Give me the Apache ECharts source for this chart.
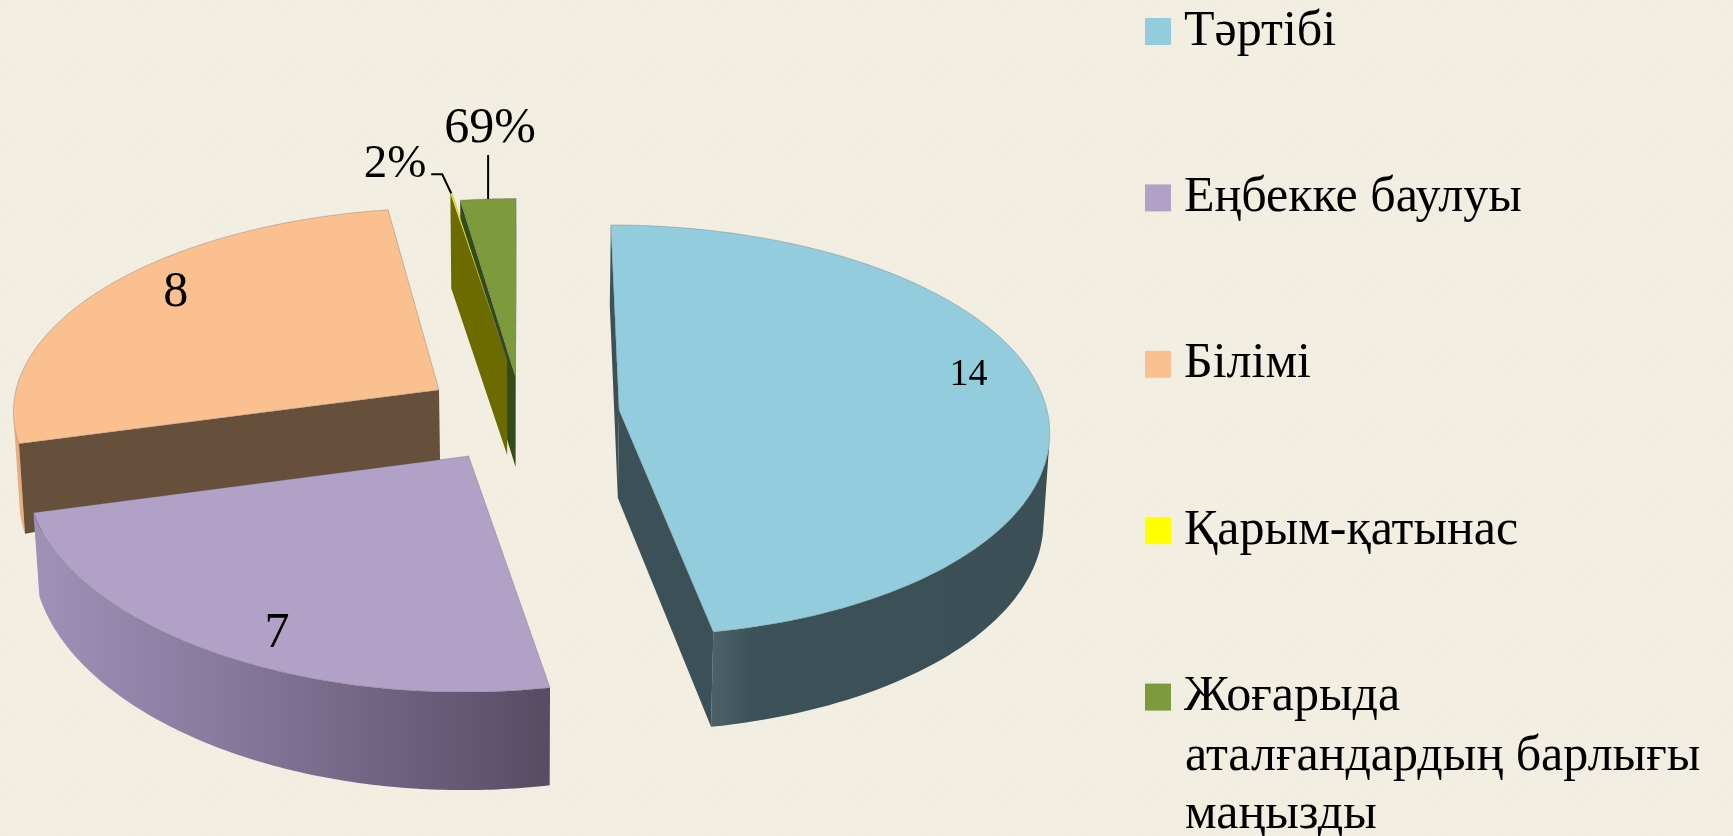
<!DOCTYPE html>
<html>
<head>
<meta charset="utf-8">
<title>chart</title>
<style>
  html, body { margin: 0; padding: 0; background: #f2efe2; }
  #chart { width: 1733px; height: 836px; }
</style>
<script src="https://cdn.jsdelivr.net/npm/echarts@6/dist/echarts.min.js"></script>
</head>
<body>
<div id="chart"></div>
<script>
// data
const categories = ["Тәртібі", "Еңбекке баулуы", "Білімі", "Қарым-қатынас", "Жоғарыда"]
const categoryWrap = ["аталғандардың барлығы", "маңызды"]
const values = [14, 7, 8, 0.02, 0.69]
const labels = ["14", "7", "8", "2%", "69%"]

// look of each slice, same order as categories
const topColors = ["#93cddd", "#b2a1c7", "#fac090", "#ffff00", "#7d9a3c"]
const wallColors = ["#3c5157", "#6d6080", "#664f3b", "#6b6b00", "#334a1a"]
const arcColors = [
  [[0, "#4c626a"], [0.12, "#3d5258"], [1, "#3b5056"]],
  [[0, "#a091b8"], [0.4, "#85779a"], [0.8, "#675a77"], [1, "#564c63"]],
  [[0, "#e8ad7f"], [1, "#e8ad7f"]],
  [[0, "#6b6b00"], [1, "#6b6b00"]],
  [[0, "#334a1a"], [1, "#334a1a"]]
]
// slice apex position, x is counted from the pie axis
const apexX = [96, -54.4, -84, -16, -7.5]
const apexY = [410, 456, 390, 360, 377]
const radiusX = [428, 439, 423, 423, 420]
const radiusY = [203.5, 204, 196.6, 184, 195]
const perspY = [0.0998, 0.136, 0.08, 0.0927, 0.0927]
const depth0 = [88, 78, 70, 95, 90]
const depthR = [0, 0, 20, 0, 0]
const depthY = [7, 20, 0, 0, 0]
// where the text sits: radius and angle in the slice plane, degrees
const labelR = [0.852, 0.875, 0.838]
const labelA = [78.1, 206.9, 307.9]
const labelSize = [38, 50, 50, 47, 50]

const axisX = 523
const perspX = 0.0927
const bottomShrink = 0.988
const fontName = '"Liberation Serif", serif'

const total = values.reduce((a, b) => a + b, 0)
const startAngles = []
values.reduce((sum, v, i) => {
  startAngles[i] = sum / total * Math.PI * 2
  return sum + v
}, 0)

const project = (i, r, t) => {
  const X = r * Math.sin(t)
  const Y = -r * Math.cos(t)
  const sx = 1 / (1 - perspX * Y)
  const sy = 1 / (1 - perspY[i] * Y)
  return [
    axisX + (apexX[i] + radiusX[i] * X) * sx,
    apexY[i] + radiusY[i] * Y * sy
  ]
}

const lower = (i, r, t) => {
  const p = project(i, r, t)
  return [
    axisX + (p[0] - axisX) * bottomShrink,
    p[1] + depth0[i] + depthR[i] * r - depthY[i] * r * Math.cos(t)
  ]
}

const poly = (points, fill, stroke) => {
  return {
    type: "polygon",
    shape: { points: points },
    style: { fill: fill, stroke: stroke || null, lineWidth: stroke ? 1 : 0 }
  }
}

// side = -1 for the starting edge, 1 for the closing edge, back faces are left out
const wall = (i, t, side, fill) => {
  const a = project(i, 0, t)
  const b = project(i, 1, t)
  const la = lower(i, 0, t)
  const lb = lower(i, 1, t)
  const cross = (b[0] - a[0]) * (lb[1] - b[1]) - (b[1] - a[1]) * (lb[0] - b[0])
  if (cross * side <= 0) return null
  return poly([a, b, lb, la], fill)
}

// only the part of the rim turned to the viewer
const rim = (i, arc, bottom) => {
  const front = []
  const back = []
  for (let k = 0; k < arc.length - 1; k++) {
    const dx = arc[k + 1][0] - arc[k][0]
    const dy = arc[k + 1][1] - arc[k][1]
    const cross = dx * (bottom[k][1] - arc[k][1]) - dy * (bottom[k][0] - arc[k][0])
    if (cross < 0) {
      if (!front.length) {
        front.push(arc[k])
        back.unshift(bottom[k])
      }
      front.push(arc[k + 1])
      back.unshift(bottom[k + 1])
    }
  }
  if (!front.length) return null
  const gradient = new echarts.graphic.LinearGradient(0, 0, 1, 0,
    arcColors[i].map((c) => ({ offset: c[0], color: c[1] })))
  return poly(front.concat(back), gradient)
}

const renderSlice = (i) => {
  const t0 = startAngles[i]
  const t1 = t0 + values[i] / total * Math.PI * 2
  const steps = 120
  const arc = []
  const bottom = []
  for (let k = 0; k <= steps; k++) {
    const t = t0 + (t1 - t0) * k / steps
    arc.push(project(i, 1, t))
    bottom.push(lower(i, 1, t))
  }
  const children = [
    rim(i, arc, bottom),
    wall(i, t0, -1, wallColors[i]),
    wall(i, t1, 1, wallColors[i]),
    poly([project(i, 0, t0)].concat(arc), topColors[i], "rgba(90,90,90,0.3)")
  ].filter((c) => c !== null)
  const font = labelSize[i] + "px " + fontName
  if (i < 3) {
    const p = project(i, labelR[i], labelA[i] * Math.PI / 180)
    children.push({
      type: "text",
      style: { x: p[0], y: p[1], text: labels[i], fill: "#000", font: font, align: "center", verticalAlign: "middle" }
    })
  } else {
    // thin slices get a leader line starting at the middle of the arc
    const p = project(i, 1, (t0 + t1) / 2)
    const route = i === 3 ? [[0, 0], [-9, -19], [-20, -19]] : [[0, 0], [0, -44]]
    const textAt = i === 3 ? [-56, -29] : [2, -70]
    children.push({
      type: "polyline",
      shape: { points: route.map((o) => [p[0] + o[0], p[1] + o[1]]) },
      style: { stroke: "#000", lineWidth: 2, fill: null }
    })
    children.push({
      type: "text",
      style: { x: p[0] + textAt[0], y: p[1] + textAt[1], text: labels[i], fill: "#000", font: font, align: "center", verticalAlign: "middle" }
    })
  }
  return { type: "group", children: children }
}

// background texture
const tile = document.createElement("canvas")
tile.width = 18
tile.height = 18
const ctx = tile.getContext("2d")
ctx.fillStyle = "#f2efe2"
ctx.fillRect(0, 0, 18, 18)
ctx.fillStyle = "#f1eee1"
ctx.fillRect(0, 0, 9, 9)
ctx.fillRect(9, 9, 9, 9)

// drawn from back to front
const drawOrder = [4, 3, 2, 0, 1]

const chart = echarts.init(document.getElementById("chart"))
chart.setOption({
  animation: false,
  backgroundColor: { image: tile, repeat: "repeat" },
  legend: {
    orient: "vertical",
    left: 1145,
    top: -2.5,
    padding: 0,
    itemWidth: 26,
    itemHeight: 27,
    itemGap: 98.4,
    icon: "rect",
    selectedMode: false,
    data: categories,
    textStyle: {
      fontFamily: fontName,
      fontSize: 50,
      lineHeight: 62,
      color: "#000",
      padding: [0, 0, 6, 8]
    }
  },
  graphic: [{
    type: "text",
    left: 1185,
    top: 728,
    style: { text: categoryWrap.join("\n"), fill: "#000", font: "50px " + fontName, lineHeight: 58 }
  }],
  series: drawOrder.map((i) => ({
    type: "custom",
    name: categories[i],
    coordinateSystem: "none",
    itemStyle: { color: topColors[i] },
    data: [[values[i]]],
    renderItem: () => renderSlice(i)
  }))
})
</script>
</body>
</html>
